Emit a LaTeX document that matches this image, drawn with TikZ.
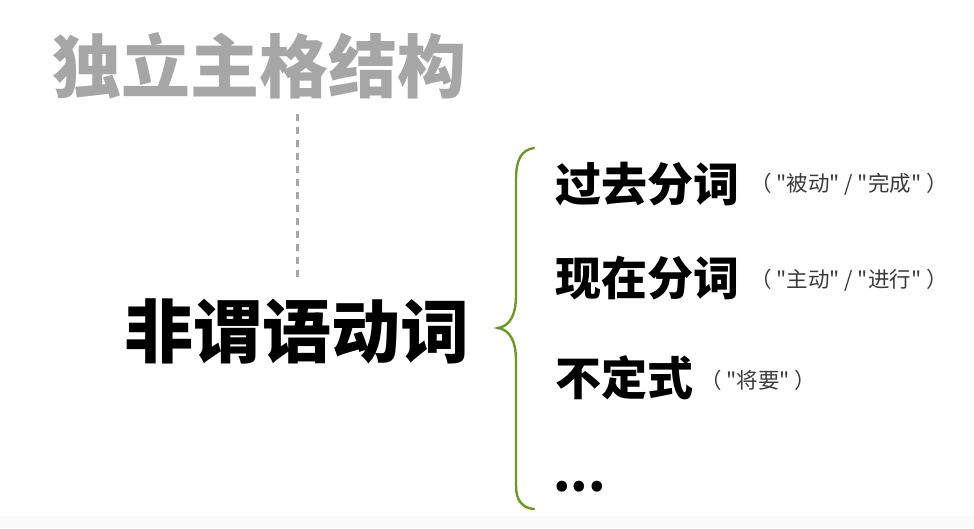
\documentclass[tikz,border=0pt]{standalone}
\usepackage{fontspec}
\newfontfamily\cjk{Noto Sans CJK SC}
\definecolor{titlegray}{HTML}{A6A6A6}
\definecolor{bracegreen}{HTML}{6A9A22}
\definecolor{notegray}{HTML}{3A3A3A}
\begin{document}
\begin{tikzpicture}[x=1pt,y=-1pt,
  bigtext/.style={inner sep=0pt, font=\cjk\bfseries\fontsize{69}{69}\selectfont},
  itemtext/.style={inner sep=0pt, anchor=west, font=\cjk\bfseries\fontsize{46}{46}\selectfont},
  notetext/.style={inner sep=0pt, anchor=west, text=notegray, font=\cjk\fontsize{21.5}{21.5}\selectfont},
  dashline/.style={draw=titlegray, line width=3pt, dash pattern=on 7pt off 6pt},
  bracestyle/.style={draw=bracegreen, line width=2.4pt, line cap=round}]
\useasboundingbox (0,0) rectangle (974,528);
\fill[gray!4] (0,516) rectangle (974,528);
\node[bigtext, text=titlegray] (title) at (259,66) {独立主格结构};
\node[bigtext, text=black] (main) at (297,331) {非谓语动词};
\coordinate (dtop) at (297,114);
\coordinate (dbot) at (297,283);
\draw[dashline] (dtop) -- (dbot);
\draw[bracestyle] (534,148) .. controls (521,150) and (516,160) .. (516,180)
  -- (516,295) .. controls (516,315) and (510,326) .. (498,328)
  .. controls (510,330) and (516,341) .. (516,361)
  -- (516,486) .. controls (516,500) and (522,508) .. (534,509);
\node[itemtext] (i1) at (555,184) {过去分词};
\node[notetext] (n1) at (750,184) {（ "被动" / "完成" ）};
\node[itemtext] (i2) at (555,278) {现在分词};
\node[notetext] (n2) at (750,280) {（ "主动" / "进行" ）};
\node[itemtext] (i3) at (555,378) {不定式};
\node[notetext] (n3) at (700,380) {（ "将要" ）};
\node[itemtext, font=\cjk\bfseries\fontsize{50}{50}\selectfont] (i4) at (553,487) {...};
\end{tikzpicture}
\end{document}
